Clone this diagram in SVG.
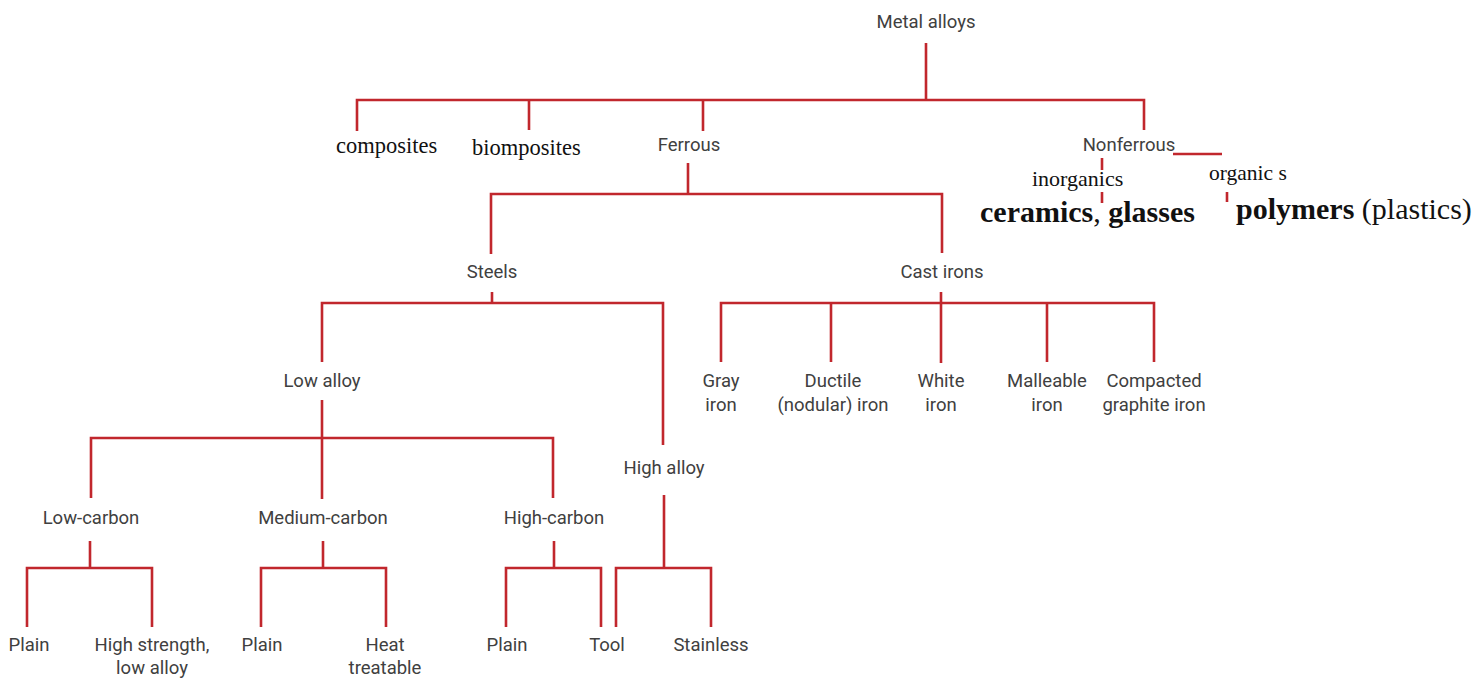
<svg xmlns="http://www.w3.org/2000/svg" width="1484" height="678" viewBox="0 0 1484 678">
<style>
.s{font-family:Roboto,"Liberation Sans",sans-serif;font-size:18.5px;fill:#404040;text-anchor:middle}
.t{font-family:"Liberation Serif",serif;fill:#111}
.c{stroke:#c1272d;stroke-width:2.6;fill:none;stroke-linecap:butt}
</style>
<rect width="1484" height="678" fill="#fff"/>
<g id="connectors" class="c">
<path d="M926 43V100M357 131V100H1144V130"/>
<path d="M529 100V130M703 100V131"/>
<path d="M688 163V194M491 254V194H942V253"/>
<path d="M492 292V303M322 362V303H663V445"/>
<path d="M941 292V363M721 362V303H1154V362M831 303V362M1047 303V362"/>
<path d="M322 400V438M91 498V438H553V498M322 438V499"/>
<path d="M664 495V568M616 627V568H711V627"/>
<path d="M90 541V568M27 627V568H152V627"/>
<path d="M323 541V568M261 627V568H386V627"/>
<path d="M554 541V568M506 627V568H601V627"/>
<path d="M1173 154H1222"/>
<path d="M1102 158V170M1102 192V203M1227 192V202"/>
</g>
<g id="n-metal"><text class="s" x="926" y="28">Metal alloys</text></g>
<g id="n-composites"><text class="t" x="336" y="153" font-size="22.5">composites</text></g>
<g id="n-biomposites"><text class="t" x="472" y="155" font-size="22.5">biomposites</text></g>
<g id="n-ferrous"><text class="s" x="689" y="151">Ferrous</text></g>
<g id="n-nonferrous"><text class="s" x="1129" y="151">Nonferrous</text></g>
<g id="n-inorganics"><text class="t" x="1032" y="186" font-size="22">inorganics</text></g>
<g id="n-organics"><text class="t" x="1209" y="180" font-size="21.5">organic s</text></g>
<g id="n-ceramics"><text class="t" x="980" y="222" font-size="30"><tspan font-weight="bold">ceramics</tspan>, <tspan font-weight="bold">glasses</tspan></text></g>
<g id="n-polymers"><text class="t" x="1236" y="219" font-size="30"><tspan font-weight="bold">polymers</tspan> (plastics)</text></g>
<g id="n-steels"><text class="s" x="492" y="278">Steels</text></g>
<g id="n-castirons"><text class="s" x="942" y="278">Cast irons</text></g>
<g id="n-lowalloy"><text class="s" x="322" y="387">Low alloy</text></g>
<g id="n-gray"><text class="s" x="721" y="387">Gray</text><text class="s" x="721" y="411">iron</text></g>
<g id="n-ductile"><text class="s" x="833" y="387">Ductile</text><text class="s" x="833" y="411">(nodular) iron</text></g>
<g id="n-white"><text class="s" x="941" y="387">White</text><text class="s" x="941" y="411">iron</text></g>
<g id="n-malleable"><text class="s" x="1047" y="387">Malleable</text><text class="s" x="1047" y="411">iron</text></g>
<g id="n-compacted"><text class="s" x="1154" y="387">Compacted</text><text class="s" x="1154" y="411">graphite iron</text></g>
<g id="n-highalloy"><text class="s" x="664" y="474">High alloy</text></g>
<g id="n-lowcarbon"><text class="s" x="91" y="524">Low-carbon</text></g>
<g id="n-mediumcarbon"><text class="s" x="323" y="524">Medium-carbon</text></g>
<g id="n-highcarbon"><text class="s" x="554" y="524">High-carbon</text></g>
<g id="n-plain1"><text class="s" x="29" y="651">Plain</text></g>
<g id="n-hsla"><text class="s" x="152" y="651">High strength,</text><text class="s" x="152" y="674">low alloy</text></g>
<g id="n-plain2"><text class="s" x="262" y="651">Plain</text></g>
<g id="n-heat"><text class="s" x="385" y="651">Heat</text><text class="s" x="385" y="674">treatable</text></g>
<g id="n-plain3"><text class="s" x="507" y="651">Plain</text></g>
<g id="n-tool"><text class="s" x="607" y="651">Tool</text></g>
<g id="n-stainless"><text class="s" x="711" y="651">Stainless</text></g>
</svg>
